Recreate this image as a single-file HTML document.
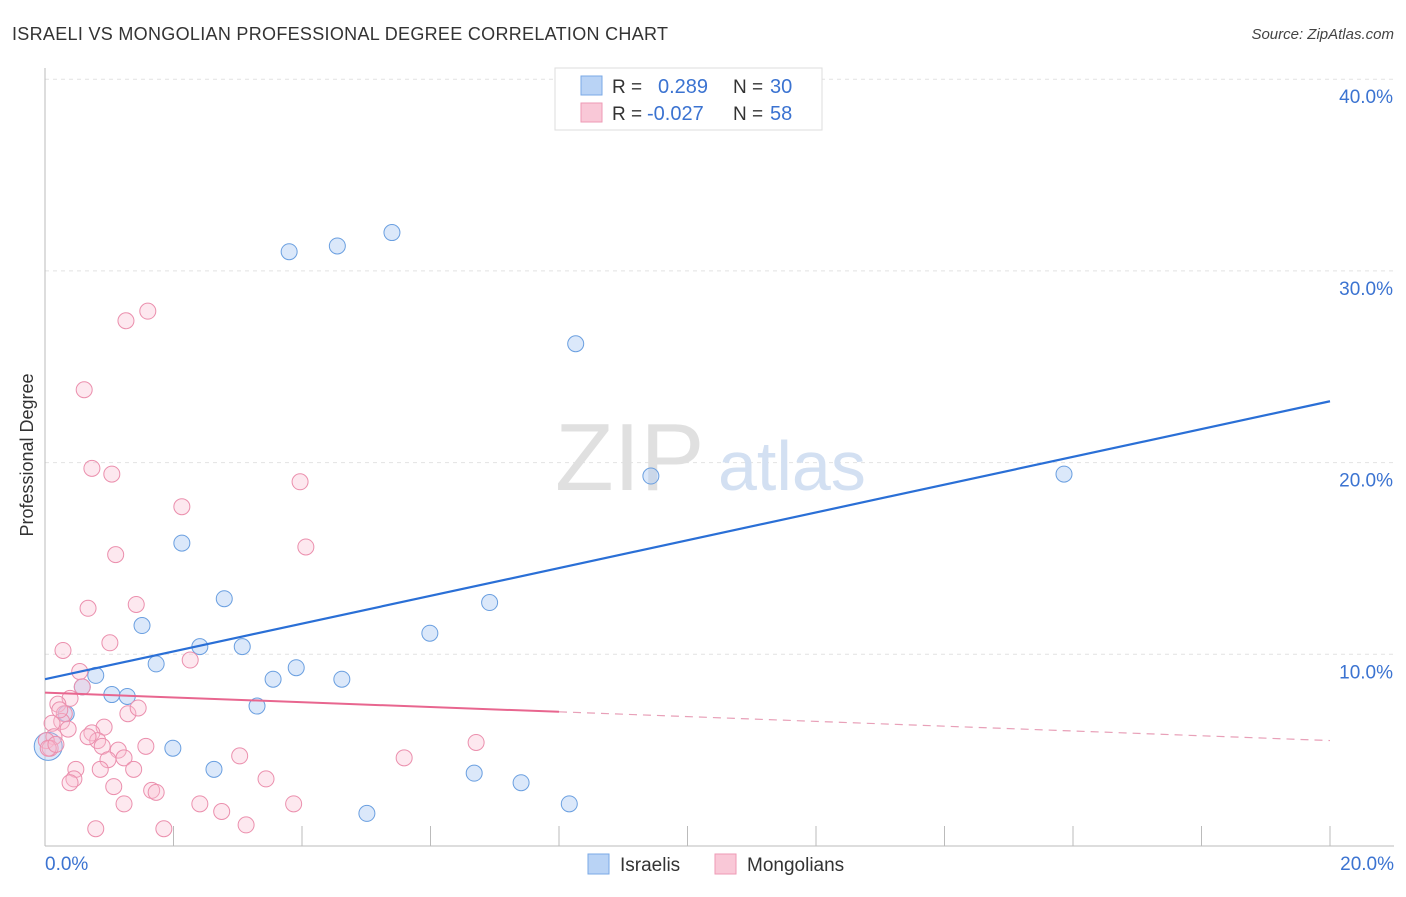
<!DOCTYPE html>
<html><head><meta charset="utf-8"><style>
body{margin:0;background:#fff;font-family:"Liberation Sans",sans-serif;}
svg text{font-family:"Liberation Sans",sans-serif;}
</style></head><body>
<svg id="chart" width="1406" height="892" xmlns="http://www.w3.org/2000/svg">
<text x="12" y="40" font-size="18" fill="#333" textLength="656">ISRAELI VS MONGOLIAN PROFESSIONAL DEGREE CORRELATION CHART</text>
<text x="1394" y="39" font-size="15" fill="#444" font-style="italic" text-anchor="end">Source: ZipAtlas.com</text>
<g id="grid"></g>
<g id="axes"></g>
<text x="555" y="490" font-size="96" fill="#e0e0e0" font-family="Liberation Serif">ZIP</text>
<text x="718" y="490" font-size="70" fill="#d3e0f2">atlas</text>
<text transform="translate(33,455) rotate(-90)" font-size="18" fill="#333" text-anchor="middle">Professional Degree</text>
<g id="marks"></g>
<g>
<rect x="555" y="68" width="267" height="62" fill="#fff" stroke="#ddd"/>
<rect x="581" y="76" width="21" height="19" fill="#b9d3f5" stroke="#7aa8e6"/>
<rect x="581" y="103" width="21" height="19" fill="#f9c8d7" stroke="#ee9ab4"/>
<text x="612" y="93" font-size="19" fill="#333">R =</text>
<text x="658" y="93" font-size="20" fill="#3b73d1">0.289</text>
<text x="733" y="93" font-size="19" fill="#333">N =</text>
<text x="770" y="93" font-size="20" fill="#3b73d1">30</text>
<text x="612" y="120" font-size="19" fill="#333">R =</text>
<text x="647" y="120" font-size="20" fill="#3b73d1">-0.027</text>
<text x="733" y="120" font-size="19" fill="#333">N =</text>
<text x="770" y="120" font-size="20" fill="#3b73d1">58</text>
</g>
<g>
<rect x="588" y="854" width="21" height="20" fill="#b9d3f5" stroke="#7aa8e6"/>
<text x="620" y="871" font-size="19" fill="#333">Israelis</text>
<rect x="715" y="854" width="21" height="20" fill="#f9c8d7" stroke="#ee9ab4"/>
<text x="747" y="871" font-size="19" fill="#333">Mongolians</text>
</g>
</svg>
<script>
const xTicks=[0,20];
const yTicks=[10,20,30,40];
const israeliX=[3.8,4.55,5.4,8.26,9.43,15.86,2.13,2.79,1.51,6.92,5.99,2.41,3.07,1.73,3.91,3.55,4.62,0.79,0.58,1.04,1.28,3.3,0.33,1.99,2.63,6.68,7.41,8.16,5.01,0.05];
const israeliY=[31.0,31.3,32.0,26.2,19.3,19.4,15.8,12.9,11.5,12.7,11.1,10.4,10.4,9.5,9.3,8.7,8.7,8.9,8.3,7.9,7.8,7.3,6.9,5.1,4.0,3.8,3.3,2.2,1.7,5.2];
const mongolX=[1.6,1.26,0.61,0.73,1.04,3.97,2.13,4.06,1.1,1.42,0.67,1.01,0.28,2.26,0.54,0.58,0.39,0.2,0.3,0.26,0.11,0.36,0.92,1.29,1.45,0.73,0.82,0.67,0.14,0.02,0.08,0.89,1.14,1.57,1.23,0.98,3.03,5.59,6.71,0.86,0.48,1.38,0.45,0.39,1.07,1.66,1.73,3.44,1.23,2.41,2.75,3.87,0.79,1.85,3.13,0.05,0.17,0.23];
const mongolY=[27.9,27.4,23.8,19.7,19.4,19.0,17.7,15.6,15.2,12.6,12.4,10.6,10.2,9.7,9.1,8.3,7.7,7.4,6.9,6.5,6.4,6.1,6.2,6.9,7.2,5.9,5.5,5.7,5.7,5.5,5.1,5.2,5.0,5.2,4.6,4.5,4.7,4.6,5.4,4.0,4.0,4.0,3.5,3.3,3.1,2.9,2.8,3.5,2.2,2.2,1.8,2.2,0.9,0.9,1.1,5.1,5.3,7.1];
const blueLine=[0,8.7,20,23.2];
const pinkLine=[0,8.0,8.0,7.0,20,5.5];
const X0=45,X1=1330,Y0=846,PX=191.7;
function sx(v){return X0+(X1-X0)*v/20;}
function sy(v){return Y0-PX*v/10;}
const NS="http://www.w3.org/2000/svg";
function mk(t,a,p){const e=document.createElementNS(NS,t);for(const k in a)e.setAttribute(k,a[k]);p.appendChild(e);return e;}
const grid=document.getElementById('grid'),axes=document.getElementById('axes'),marks=document.getElementById('marks');
yTicks.forEach(v=>{
 const l=mk('line',{x1:X0,x2:1394,y1:sy(v),y2:sy(v),stroke:'#e2e2e2','stroke-dasharray':'4,4'},grid);
 
 
 const t=mk('text',{x:1393,y:sy(v)+24,'font-size':19,fill:'#3b73d1','text-anchor':'end'},axes);
 t.textContent=v.toFixed(1)+'%';
 
 
});
mk('line',{x1:X0,x2:X0,y1:68,y2:Y0,stroke:'#bbb'},axes);
mk('line',{x1:X0,x2:1394,y1:Y0,y2:Y0,stroke:'#bbb'},axes);
for(let i=0;i<=10;i++){const x=sx(i*2);mk('line',{x1:x,x2:x,y1:826,y2:Y0,stroke:'#bbb'},axes);}
xTicks.forEach((v,i)=>{
 const t=mk('text',{x:i==0?sx(v):1394,y:870,'font-size':19,fill:'#3b73d1','text-anchor':i==0?'start':'end'},axes);
 t.textContent=v.toFixed(1)+'%';
 
 
});
israeliX.forEach((v,i)=>{
 const c=mk('circle',{cx:sx(v),cy:sy(israeliY[i]),r:i==israeliX.length-1?14:8,fill:'rgba(175,205,243,0.45)',stroke:'#6a9fe0','stroke-width':1},marks);
 
 
});
mongolX.forEach((v,i)=>{
 const c=mk('circle',{cx:sx(v),cy:sy(mongolY[i]),r:8,fill:'rgba(248,190,208,0.35)',stroke:'#eb8fad','stroke-width':1},marks);
 
 
});
const bl=mk('line',{x1:sx(blueLine[0]),y1:sy(blueLine[1]),x2:sx(blueLine[2]),y2:sy(blueLine[3]),stroke:'#2a6fd6','stroke-width':2.2},marks);


const pl=mk('line',{x1:sx(pinkLine[0]),y1:sy(pinkLine[1]),x2:sx(pinkLine[2]),y2:sy(pinkLine[3]),stroke:'#e8668f','stroke-width':2},marks);


const pd=mk('line',{x1:sx(pinkLine[2]),y1:sy(pinkLine[3]),x2:sx(pinkLine[4]),y2:sy(pinkLine[5]),stroke:'#e8a0b8','stroke-width':1.2,'stroke-dasharray':'8,6'},marks);


</script>
</body></html>
